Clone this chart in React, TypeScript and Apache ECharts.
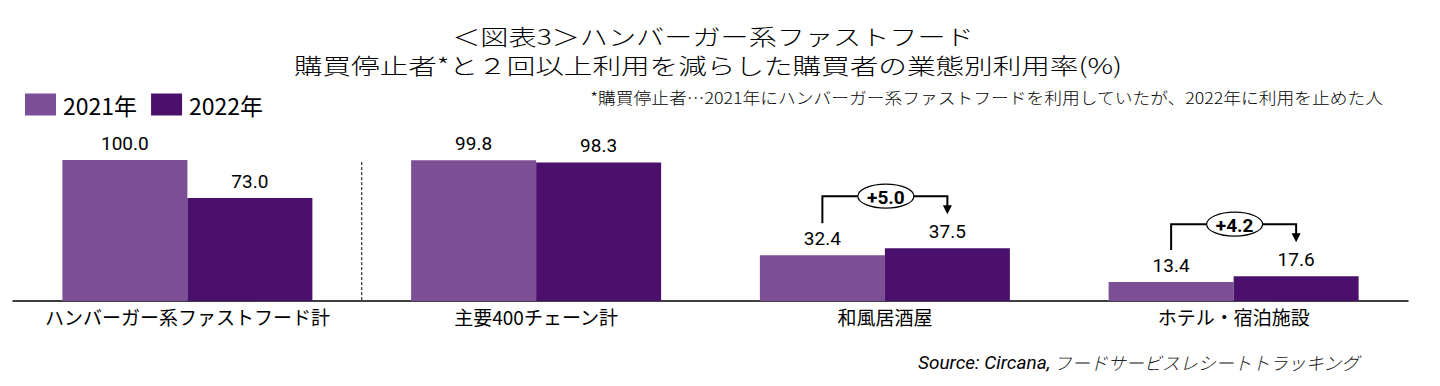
import React, { useEffect, useRef } from "react";
import * as echarts from "echarts";

const categories = ["ハンバーガー系ファストフード計", "主要400チェーン計", "和風居酒屋", "ホテル・宿泊施設"];
const seriesNames = ["2021年", "2022年"];
const values2021 = [100.0, 99.8, 32.4, 13.4];
const values2022 = [73.0, 98.3, 37.5, 17.6];
const changeLabels = ["", "", "+5.0", "+4.2"];
const titleLine1 = "＜図表3＞ハンバーガー系ファストフード";
const titleLine2 = "購買停止者*と２回以上利用を減らした購買者の業態別利用率(%)";
const footnote = "*購買停止者…2021年にハンバーガー系ファストフードを利用していたが、2022年に利用を止めた人";
const sourceLabel = "Source: Circana,";
const sourceName = "フードサービスレシートトラッキング";

const COLOR_2021 = "#7b4e95";
const COLOR_2022 = "#4b106b";
const BAR_W = 125;
const CJK = "'Noto Sans CJK JP', 'Noto Sans', sans-serif";
const NUM = "Roboto, 'Noto Sans', sans-serif";

export default function App() {
  const ref = useRef<HTMLDivElement>(null);
  useEffect(() => {
    if (!ref.current) return;
    const chart = echarts.init(ref.current, undefined, { renderer: "svg" });
    const lbl = {
      show: true,
      position: "top",
      distance: 7,
      fontSize: 19,
      fontFamily: NUM,
      color: "#000",
      formatter: (p: any) => Number(p.value).toFixed(1),
    };
    chart.setOption({
      animation: false,
      backgroundColor: "#fff",
      legend: {
        data: seriesNames,
        left: 20,
        top: 88,
        itemWidth: 31,
        itemHeight: 22,
        itemGap: 14,
        icon: "rect",
        textStyle: { fontSize: 23, fontFamily: CJK, color: "#000", padding: [0, 0, 0, 2] },
      },
      grid: { left: 13, right: 32, top: 160, bottom: 85, containLabel: false },
      xAxis: {
        type: "category",
        data: categories,
        axisLine: { lineStyle: { color: "#000", width: 1.5 } },
        axisTick: { show: false },
        axisLabel: { fontSize: 19, fontFamily: CJK, color: "#000", margin: 6, interval: 0 },
      },
      yAxis: { type: "value", min: 0, max: 100, show: false, splitLine: { show: false } },
      series: [
        { name: seriesNames[0], type: "bar", data: values2021, barWidth: BAR_W, barGap: "0%", itemStyle: { color: COLOR_2021 }, label: lbl },
        { name: seriesNames[1], type: "bar", data: values2022, barWidth: BAR_W, barGap: "0%", itemStyle: { color: COLOR_2022 }, label: lbl },
      ],
    });

    const px = (i: number, v: number) => chart.convertToPixel({ gridIndex: 0 }, [i, v]) as number[];
    const graphics: any[] = [];
    graphics.push({
      type: "text", x: 713, y: 35, scaleX: 1.28,
      style: { text: titleLine1, fontSize: 22, fontWeight: 300, fontFamily: CJK, fill: "#000", align: "center", verticalAlign: "middle", textAlign: "center", textVerticalAlign: "middle" },
    });
    graphics.push({
      type: "text", x: 708, y: 64, scaleX: 1.3,
      style: { text: titleLine2, fontSize: 22, fontWeight: 300, fontFamily: CJK, fill: "#000", align: "center", verticalAlign: "middle", textAlign: "center", textVerticalAlign: "middle" },
    });
    graphics.push({
      type: "text", x: 1383, y: 97, scaleX: 1.11,
      style: { text: footnote, fontSize: 16, fontWeight: 300, fontFamily: CJK, fill: "#000", align: "right", verticalAlign: "middle", textAlign: "right", textVerticalAlign: "middle" },
    });
    graphics.push({
      type: "text", x: 918, y: 362,
      style: {
        text: "{a|" + sourceLabel + "} {b|" + sourceName + "}",
        align: "left", verticalAlign: "middle", textAlign: "left", textVerticalAlign: "middle",
        rich: {
          a: { fontSize: 19, fontFamily: "'Liberation Sans Narrow', Roboto, sans-serif", fontStyle: "italic", fill: "#000", color: "#000" },
          b: { fontSize: 18, fontWeight: 300, fontFamily: CJK, fontStyle: "italic", fill: "#222", color: "#222" },
        },
      },
    });
    const c0 = px(0, 0);
    const c1 = px(1, 0);
    const sepX = (c0[0] + c1[0]) / 2;
    graphics.push({
      type: "line",
      shape: { x1: sepX, y1: px(0, 98.5)[1], x2: sepX, y2: c0[1] - 1 },
      style: { stroke: "#000", lineWidth: 1, lineDash: [3, 2] },
    });
    changeLabels.forEach((t, i) => {
      if (!t) return;
      const cx = px(i, 0)[0];
      const x1 = cx - BAR_W / 2;
      const x2 = cx + BAR_W / 2;
      const y1 = px(i, values2021[i])[1] - 32;
      const y2 = px(i, values2022[i])[1] - 34;
      const yTop = px(i, Math.max(values2021[i], values2022[i]))[1] - 52;
      graphics.push({
        type: "polyline",
        shape: { points: [[x1, y1], [x1, yTop], [x2, yTop], [x2, y2 - 8]] },
        style: { stroke: "#000", lineWidth: 2, fill: null },
      });
      graphics.push({
        type: "polygon",
        shape: { points: [[x2 - 4.5, y2 - 9], [x2 + 4.5, y2 - 9], [x2, y2]] },
        style: { fill: "#000" },
      });
      graphics.push({
        type: "ellipse",
        shape: { cx: (x1 + x2) / 2 + 1, cy: yTop, rx: 28, ry: 12 },
        style: { fill: "#fff", stroke: "#000", lineWidth: 1.2 },
      });
      graphics.push({
        type: "text", x: (x1 + x2) / 2 + 1, y: yTop + 1,
        style: { text: t, fontSize: 19, fontWeight: "bold", fontFamily: NUM, fill: "#000", align: "center", verticalAlign: "middle", textAlign: "center", textVerticalAlign: "middle" },
      });
    });
    chart.setOption({ graphic: graphics });
    return () => chart.dispose();
  }, []);
  return <div ref={ref} style={{ position: "fixed", left: 0, top: 0, width: 1440, height: 386 }} />;
}
